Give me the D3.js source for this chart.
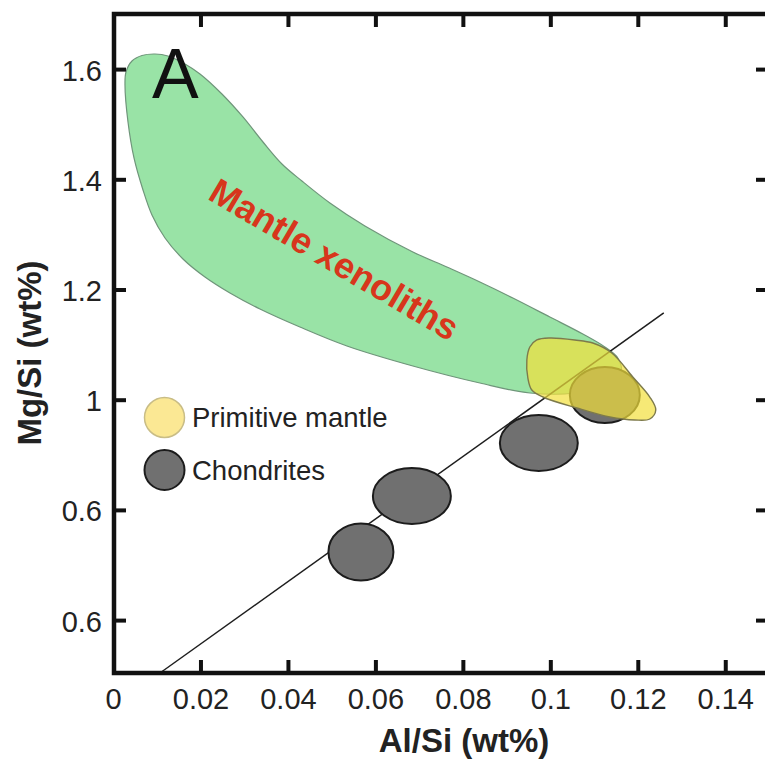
<!DOCTYPE html>
<html>
<head>
<meta charset="utf-8">
<script src="https://cdn.jsdelivr.net/npm/d3@7"></script>
<style>
  html, body { margin: 0; padding: 0; background: #ffffff; }
  svg { display: block; font-family: "Liberation Sans", Arial, sans-serif; }
</style>
</head>
<body>
<svg id="chart" width="765" height="760"></svg>
<script>
// ---------- data ----------
const xTicks = [0, 0.02, 0.04, 0.06, 0.08, 0.1, 0.12, 0.14];
const xTickLabels = ["0", "0.02", "0.04", "0.06", "0.08", "0.1", "0.12", "0.14"];
const yTicks = [1.6, 1.4, 1.2, 1.0, 0.8, 0.6];
const yTickLabels = ["1.6", "1.4", "1.2", "1", "0.6", "0.6"];

// Mantle xenoliths field outline [Al/Si, Mg/Si]
const mantleXenoliths = [
  [0.00274, 1.5712], [0.00297, 1.5947], [0.00434, 1.6147], [0.00663, 1.6247],
  [0.0096, 1.6274], [0.01257, 1.6238], [0.01646, 1.6093], [0.01989, 1.5911],
  [0.02491, 1.5548], [0.02971, 1.5131], [0.03429, 1.4677], [0.03863, 1.4278],
  [0.0432, 1.3969], [0.0496, 1.357], [0.0576, 1.3153], [0.06857, 1.2681],
  [0.07634, 1.2408], [0.08389, 1.2136], [0.09143, 1.1846], [0.09989, 1.1501],
  [0.10743, 1.1192], [0.11246, 1.0957], [0.11543, 1.0757], [0.11611, 1.0485],
  [0.11246, 1.0267], [0.1056, 1.0122], [0.09531, 1.0122], [0.08389, 1.0303],
  [0.06857, 1.0612], [0.05349, 1.0975], [0.04274, 1.1319], [0.0336, 1.1646],
  [0.02674, 1.1937], [0.02103, 1.2227], [0.016, 1.2554], [0.01189, 1.2935],
  [0.00891, 1.3352], [0.00686, 1.3806], [0.0048, 1.4387], [0.00343, 1.504]
];

// Primitive mantle field outline
const primitiveMantle = [
  [0.09531, 1.0957], [0.09691, 1.1084], [0.09989, 1.112], [0.1056, 1.1084],
  [0.10971, 1.1029], [0.11406, 1.0848], [0.11886, 1.0412], [0.12274, 1.0049],
  [0.12411, 0.9813], [0.12274, 0.965], [0.11931, 0.9632], [0.1136, 0.9686],
  [0.10606, 0.9849], [0.09829, 1.0049], [0.09577, 1.0176], [0.09486, 1.0394],
  [0.09463, 1.0721]
];

// Chondrites: centre Al/Si, centre Mg/Si, half-width Al/Si, half-height Mg/Si
const chondriteX  = [0.05669, 0.06834, 0.09737, 0.11246];
const chondriteY  = [0.7236, 0.8252, 0.9214, 1.0085];
const chondriteRx = [0.00743, 0.00891, 0.00891, 0.0080];
const chondriteRy = [0.0517, 0.0508, 0.0508, 0.0508];

// Correlation line end points
const trendLine = [[0.01074, 0.504], [0.12594, 1.1574]];

// Annotation anchors (data units)
const fieldLabel = { text: "Mantle xenoliths", x: 0.04914, y: 1.2354, angle: 30.5 };
const panelLabel = { text: "A", x: 0.00891, y: 1.5476 };
const legendItems = [
  { label: "Primitive mantle", kind: "pm" },
  { label: "Chondrites", kind: "ch" }
];

// ---------- drawing ----------
const svg = d3.select("#chart");
const x = d3.scaleLinear().domain([0, 0.15]).range([113, 769]);
const y = d3.scaleLinear().domain([0.504, 1.7]).range([673, 14]);

const font = '"Liberation Sans", Arial, sans-serif';
const textCol = "#222222";

const line = d3.line().x(d => x(d[0])).y(d => y(d[1])).curve(d3.curveCatmullRomClosed.alpha(0.5));

// green field
svg.append("path")
  .attr("d", line(mantleXenoliths))
  .attr("fill", "#99e3a6")
  .attr("stroke", "#6f957a")
  .attr("stroke-width", 1.2);

// trend line
svg.append("line")
  .attr("x1", x(trendLine[0][0])).attr("y1", y(trendLine[0][1]))
  .attr("x2", x(trendLine[1][0])).attr("y2", y(trendLine[1][1]))
  .attr("stroke", "#1e1e1e").attr("stroke-width", 1.5);

// chondrites
svg.append("g").selectAll("ellipse")
  .data(chondriteX.map((d, i) => i))
  .join("ellipse")
  .attr("cx", i => x(chondriteX[i]))
  .attr("cy", i => y(chondriteY[i]))
  .attr("rx", i => x(chondriteRx[i]) - x(0))
  .attr("ry", i => y(0.6) - y(0.6 + chondriteRy[i]))
  .attr("fill", "#707070")
  .attr("stroke", "#1c1c1c")
  .attr("stroke-width", 2);

// primitive mantle (translucent, on top)
svg.append("path")
  .attr("d", line(primitiveMantle))
  .attr("fill", "#f2df3c")
  .attr("fill-opacity", 0.7)
  .attr("stroke", "#7d7a4c")
  .attr("stroke-width", 1.4);

// field label
svg.append("text")
  .attr("transform", `translate(${x(fieldLabel.x)},${y(fieldLabel.y)}) rotate(${fieldLabel.angle})`)
  .attr("text-anchor", "middle")
  .attr("font-family", font)
  .attr("font-weight", "bold")
  .attr("font-size", 36)
  .attr("fill", "#d7361c")
  .text(fieldLabel.text);

// panel label
svg.append("text")
  .attr("x", x(panelLabel.x)).attr("y", y(panelLabel.y))
  .attr("font-family", font)
  .attr("font-size", 70)
  .attr("fill", "#111")
  .text(panelLabel.text);

// legend
const lg = svg.append("g").attr("transform", "translate(164.5,417.5)");
legendItems.forEach((d, i) => {
  const g = lg.append("g").attr("transform", `translate(0,${i * 52.5})`);
  g.append("circle")
    .attr("r", 20)
    .attr("fill", d.kind === "pm" ? "#fbe894" : "#707070")
    .attr("stroke", d.kind === "pm" ? "#c9bd86" : "#1c1c1c")
    .attr("stroke-width", d.kind === "pm" ? 1.5 : 2);
  g.append("text")
    .attr("x", 27.5).attr("y", 9.5)
    .attr("font-family", font)
    .attr("font-size", 27.5)
    .attr("fill", textCol)
    .text(d.label);
});

// axes
function styleAxis(g) {
  g.select(".domain").remove();
  g.selectAll(".tick line").attr("stroke", "#111").attr("stroke-width", 4);
  g.selectAll(".tick text").attr("font-family", font).attr("font-size", 29).attr("fill", textCol);
}
const gB = svg.append("g").attr("transform", `translate(0,${y(0.504)})`)
  .call(d3.axisBottom(x).tickValues(xTicks).tickSize(-13).tickSizeOuter(0).tickPadding(15)
    .tickFormat((d, i) => xTickLabels[i]));
styleAxis(gB);
gB.selectAll(".tick").filter(d => d === 0).select("line").remove();

const gT = svg.append("g").attr("transform", `translate(0,${y(1.7)})`)
  .call(d3.axisTop(x).tickValues(xTicks.filter(d => d > 0)).tickSize(-13).tickSizeOuter(0).tickFormat(""));
styleAxis(gT);

const gL = svg.append("g").attr("transform", `translate(${x(0)},0)`)
  .call(d3.axisLeft(y).tickValues(yTicks).tickSize(-13).tickSizeOuter(0).tickPadding(11)
    .tickFormat((d, i) => yTickLabels[i]));
styleAxis(gL);
gL.selectAll(".tick text").attr("dy", "0.38em");

const gR = svg.append("g").attr("transform", `translate(${x(0.15)},0)`)
  .call(d3.axisRight(y).tickValues(yTicks).tickSize(-13).tickSizeOuter(0).tickFormat(""));
styleAxis(gR);

// frame
svg.append("rect")
  .attr("x", x(0) + 1).attr("y", y(1.7))
  .attr("width", x(0.15) - x(0) - 1).attr("height", y(0.504) - y(1.7))
  .attr("fill", "none").attr("stroke", "#111").attr("stroke-width", 4.5);

// axis titles
svg.append("text")
  .attr("x", 464).attr("y", 752)
  .attr("text-anchor", "middle")
  .attr("font-family", font).attr("font-weight", "bold").attr("font-size", 33)
  .attr("fill", textCol)
  .text("Al/Si (wt%)");

svg.append("text")
  .attr("transform", "translate(41,353) rotate(-90)")
  .attr("text-anchor", "middle")
  .attr("font-family", font).attr("font-weight", "bold").attr("font-size", 33)
  .attr("fill", textCol)
  .text("Mg/Si (wt%)");
</script>
</body>
</html>
